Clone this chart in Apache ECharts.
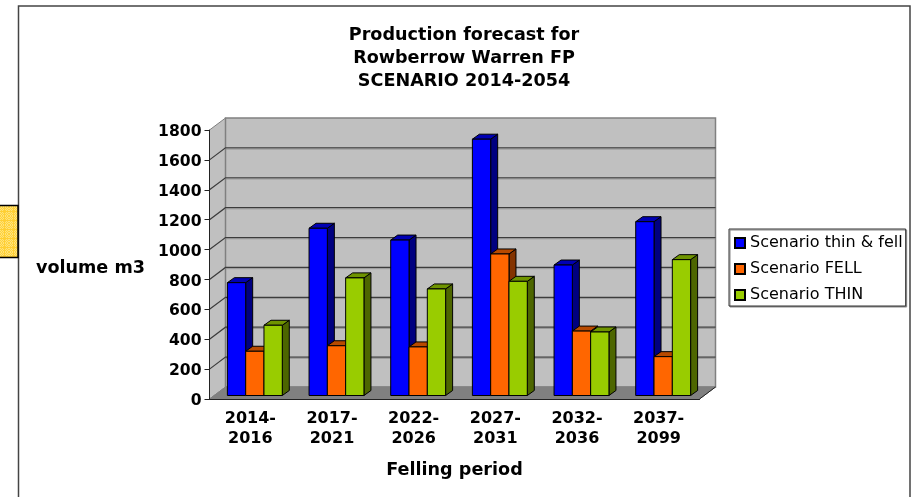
<!DOCTYPE html>
<html><head><meta charset="utf-8">
<style>html,body{margin:0;padding:0;background:#fff}#c{width:914px;height:497px}</style>
<script src="https://cdn.jsdelivr.net/npm/echarts@6/dist/echarts.min.js"></script>
</head><body><div id="c"></div>
<script>
const categories = ['2014-\n2016','2017-\n2021','2022-\n2026','2027-\n2031','2032-\n2036','2037-\n2099'];
const thinFell = [755,1119,1040,1715,873,1163];
const fell = [296,333,325,947,431,260];
const thin = [470,787,713,764,425,909];
const yTicks = [0,200,400,600,800,1000,1200,1400,1600,1800];
const seriesNames = ['Scenario thin & fell','Scenario FELL','Scenario THIN'];

const FONT = 'DejaVu Sans';
const DEPTH_X = 16, DEPTH_Y = -12;
const BAR_SHIFT_X = 4.5, BAR_SHIFT_Y = -3.5, BAR_DX = 7, BAR_DY = -5;
const palette = [
  {front:'#0000ff', side:'#000080', top:'#0000b4'},
  {front:'#ff6600', side:'#843300', top:'#b84a00'},
  {front:'#99cc00', side:'#4d6600', top:'#6f9400'}
];

function poly(points, fill, stroke, lw){
  return {type:'polygon', shape:{points}, style:{fill, stroke:stroke||'#000', lineWidth:lw===undefined?1:lw}};
}
function barRender(idx){
  return function(params, api){
    const cat = api.value(0), val = api.value(1);
    const w = 18.3;
    const c0 = api.coord([cat,0]), c1 = api.coord([cat,val]);
    const x = c0[0] + BAR_SHIFT_X + (idx-1.5)*w;
    const y0 = c0[1] + BAR_SHIFT_Y, y1 = c1[1] + BAR_SHIFT_Y;
    const p = palette[idx];
    return {type:'group', children:[
      poly([[x+w,y0],[x+w+BAR_DX,y0+BAR_DY],[x+w+BAR_DX,y1+BAR_DY],[x+w,y1]], p.side),
      poly([[x,y1],[x+BAR_DX,y1+BAR_DY],[x+w+BAR_DX,y1+BAR_DY],[x+w,y1]], p.top),
      poly([[x,y0],[x+w,y0],[x+w,y1],[x,y1]], p.front)
    ]};
  };
}
function wallsRender(params, api){
  const band = api.size([1,0])[0];
  const first = api.coord([0,0]), last = api.coord([categories.length-1,0]);
  const L = first[0]-band/2, R = last[0]+band/2, B = first[1];
  const T = api.coord([0,yTicks[yTicks.length-1]])[1];
  const dx = DEPTH_X, dy = DEPTH_Y, wall = '#c0c0c0', wb = '#808080';
  const ch = [
    poly([[L,B],[L+dx,B+dy],[L+dx,T+dy],[L,T]], wall, wb, 1),
    poly([[L+dx,B+dy],[R+dx,B+dy],[R+dx,T+dy],[L+dx,T+dy]], wall, wb, 1.5),
    poly([[L,B],[R,B],[R+dx,B+dy],[L+dx,B+dy]], '#808080', '#808080', 1)
  ];
  yTicks.slice(1,-1).forEach(t=>{
    const y = api.coord([0,t])[1];
    ch.push({type:'polyline', shape:{points:[[L,y],[L+dx,y+dy],[R+dx,y+dy]]},
      style:{fill:null, stroke:'#3c3c3c', lineWidth:1.2}});
    ch.push({type:'line', shape:{x1:L+dx,y1:y+dy+1.2,x2:R+dx,y2:y+dy+1.2},
      style:{stroke:'#8e8e8e', lineWidth:0.8}});
  });
  ch.push({type:'line', shape:{x1:R,y1:B,x2:R+dx,y2:B+dy}, style:{stroke:'#222', lineWidth:1}});
  return {type:'group', children:ch};
}
function barSeries(i, values){
  return {type:'custom', name:seriesNames[i], coordinateSystem:'cartesian2d', clip:false, z:3+i,
    renderItem:barRender(i), itemStyle:{color:palette[i].front, borderColor:'#000', borderWidth:1},
    encode:{x:0,y:1}, data:values.map((v,k)=>[k,v]), silent:true};
}
function goldPattern(){
  const cv = document.createElement('canvas'); cv.width = cv.height = 9;
  const g = cv.getContext('2d');
  g.fillStyle = '#ffe37a'; g.fillRect(0,0,9,9);
  g.fillStyle = '#ffd23c';
  for(let i=0;i<9;i++) for(let j=0;j<9;j++){ if((i+j)%2===0) g.fillRect(i,j,1,1); }
  g.fillStyle = '#ffcf33'; g.fillRect(0,4,9,1); g.fillRect(4,0,1,9);
  return cv;
}
const chart = echarts.init(document.getElementById('c'), null, {renderer:'canvas'});
chart.setOption({
  animation:false,
  backgroundColor:'#fff',
  textStyle:{fontFamily:FONT},
  title:{text:'Production forecast for\nRowberrow Warren FP\nSCENARIO 2014-2054', left:459, top:19, textAlign:'center',
    textStyle:{fontFamily:FONT,fontWeight:'bold',fontSize:17.6,lineHeight:23,color:'#000'}},
  grid:{left:209.5,right:214.5,top:130,bottom:98,containLabel:false,outerBoundsMode:'none'},
  legend:{orient:'vertical',left:729,top:229,itemWidth:10,itemHeight:10,itemGap:10,padding:[6,3,3,5],
    data:seriesNames,icon:'rect',selectedMode:false,backgroundColor:'#fff',borderColor:'#333',borderWidth:1,
    shadowColor:'#888',shadowOffsetX:1,shadowOffsetY:1,shadowBlur:0,
    textStyle:{fontFamily:FONT,fontSize:16,color:'#000'}},
  xAxis:{type:'category',data:categories,z:5,name:'Felling period',nameLocation:'middle',nameGap:62,
    nameTextStyle:{fontFamily:FONT,fontWeight:'bold',fontSize:17.6,color:'#000'},
    axisLine:{lineStyle:{color:'#222',width:1}},axisTick:{length:5,lineStyle:{color:'#222'}},
    axisLabel:{fontFamily:FONT,fontWeight:'bold',fontSize:16,lineHeight:20,color:'#000',margin:10,interval:0},
    splitLine:{show:false}},
  yAxis:{type:'value',min:0,max:1800,interval:200,z:5,name:'{n|volume m3}',nameLocation:'middle',nameRotate:0,nameGap:64.5,
    nameTextStyle:{rich:{n:{fontFamily:FONT,fontWeight:'bold',fontSize:17.6,color:'#000',padding:[8,0,0,0]}}},
    axisLine:{show:true,lineStyle:{color:'#222',width:1}},axisTick:{show:true,length:5,lineStyle:{color:'#222'}},
    axisLabel:{margin:8,formatter:v=>'{t|'+v+'}',rich:{t:{fontFamily:FONT,fontWeight:'bold',fontSize:15.6,color:'#000',padding:[4,0,0,0]}}},splitLine:{show:false}},
  series:[
    {type:'custom',name:'walls',coordinateSystem:'cartesian2d',clip:false,z:1,silent:true,renderItem:wallsRender,data:[[0,0]],encode:{x:0,y:1}},
    barSeries(0,thinFell),barSeries(1,fell),barSeries(2,thin)
  ],
  graphic:[
    {type:'rect',z:0,shape:{x:18.5,y:6,width:891.5,height:520},style:{fill:null,stroke:'#444',lineWidth:1.5},silent:true},
    {type:'rect',z:0,shape:{x:-2,y:205.5,width:20,height:52},style:{fill:{image:goldPattern(),repeat:'repeat'},stroke:'#000',lineWidth:1.5},silent:true}
  ]
});
</script></body></html>
